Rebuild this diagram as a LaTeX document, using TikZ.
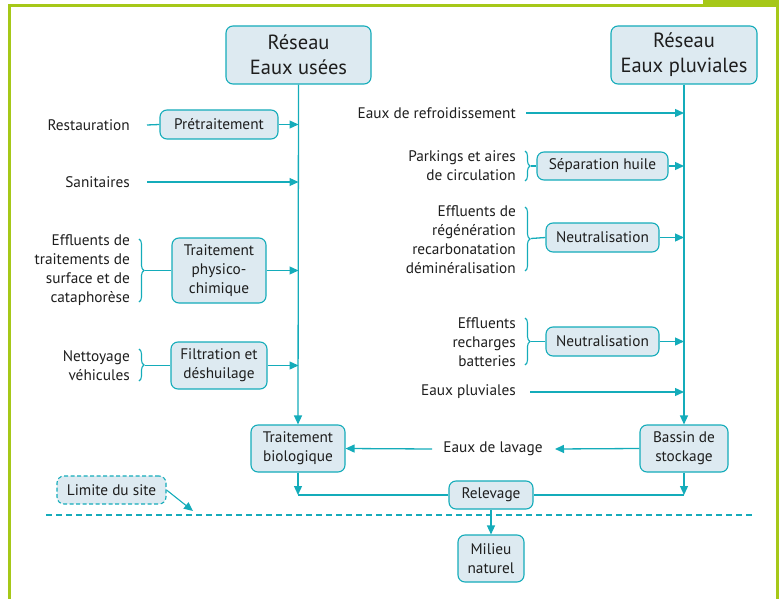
\documentclass[tikz,border=0pt]{standalone}
\usepackage{fontspec}
\setmainfont{PT Sans}
\usetikzlibrary{arrows.meta,decorations.pathreplacing,calc}
\definecolor{tl}{RGB}{20,172,186}
\definecolor{fl}{RGB}{221,234,241}
\definecolor{gr}{RGB}{166,200,24}
\definecolor{tx}{RGB}{30,30,30}
\tikzset{
  box/.style={draw=tl,fill=fl,line width=1.1pt,rounded corners=7pt,align=center,inner sep=0pt,text=tx,font=\fontsize{15.3}{19}\selectfont},
  bigbox/.style={box,font=\fontsize{20.5}{25}\selectfont},
  lbl/.style={inner sep=0pt,align=right,text=tx,font=\fontsize{15.3}{19}\selectfont},
  cn/.style={draw=tl,line width=1.3pt},
  arr/.style={cn,-{Triangle[length=9pt,width=8pt]}},
  brc/.style={draw=tl,line width=1.1pt,decorate,decoration={brace,amplitude=5pt}}
}
\begin{document}
\begin{tikzpicture}[x=1pt,y=-1pt]
\useasboundingbox (0,0) rectangle (779,599);
% frame
\fill[gr] (8,4) rectangle (11,599);
\fill[gr] (8,4) rectangle (779,7);
\fill[gr] (703,0) rectangle (779,7);
\fill[gr] (776,0) rectangle (779,599);
% main boxes
\node[bigbox,minimum width=145pt,minimum height=58pt] (reu) at (298.5,55) {Réseau\\Eaux usées};
\node[bigbox,minimum width=146pt,minimum height=58pt] (rep) at (684,55) {Réseau\\Eaux pluviales};
% left side
\node[lbl,anchor=east] (restau) at (130,125) {Restauration};
\node[box,minimum width=118pt,minimum height=29pt] (pret) at (219,124.5) {Prétraitement};
\node[lbl,anchor=east] (sanit) at (130,182) {Sanitaires};
\node[lbl,anchor=east] (effl) at (130,270.5) {Effluents de\\traitements de\\surface et de\\cataphorèse};
\node[box,minimum width=94pt,minimum height=65pt] (tpc) at (219,270.5) {Traitement\\physico-\\chimique};
\node[lbl,anchor=east] (nett) at (130,365.5) {Nettoyage\\véhicules};
\node[box,minimum width=96pt,minimum height=47pt] (filt) at (219,365.5) {Filtration et\\déshuilage};
% right side
\node[lbl,anchor=east] (refr) at (516,113) {Eaux de refroidissement};
\node[lbl,anchor=east] (park) at (516,166) {Parkings et aires\\de circulation};
\node[box,minimum width=131pt,minimum height=28pt] (sep) at (602.5,166) {Séparation huile};
\node[lbl,anchor=east] (effr) at (516,239.5) {Effluents de\\régénération\\recarbonatation\\déminéralisation};
\node[box,minimum width=113pt,minimum height=29pt] (neu1) at (602.5,237.5) {Neutralisation};
\node[lbl,anchor=east] (effb) at (516,342) {Effluents\\recharges\\batteries};
\node[box,minimum width=113pt,minimum height=29pt] (neu2) at (602.5,341.5) {Neutralisation};
\node[lbl,anchor=east] (pluv) at (516,392) {Eaux pluviales};
% bottom
\node[box,minimum width=94pt,minimum height=47pt] (tbio) at (298,448.5) {Traitement\\biologique};
\node[box,minimum width=88pt,minimum height=47pt] (bas) at (684,448.5) {Bassin de\\stockage};
\node[lbl,align=center] (lav) at (493,449) {Eaux de lavage};
\node[box,minimum width=84pt,minimum height=28pt] (rel) at (491,495) {Relevage};
\node[box,minimum width=66pt,minimum height=47pt] (mil) at (491,558.5) {Milieu\\naturel};
\node[box,dashed,dash pattern=on 4pt off 2.5pt,minimum width=109pt,minimum height=28pt] (lim) at (111.5,490) {Limite du site};
% coordinates
\coordinate (c1) at (147,125);
\coordinate (c2) at (147,182);
\coordinate (c3) at (526,113);
\coordinate (c4) at (530,392);
\coordinate (b1t) at (145,270.5);
\coordinate (b2t) at (145,365.5);
\coordinate (b3t) at (531,166);
\coordinate (b4t) at (531,238.5);
\coordinate (b5t) at (531,341.5);
\coordinate (lvr) at (555,449);
\coordinate (lvl) at (432,449);
\coordinate (lm) at (193,511);
\coordinate (dl) at (46,515);
\coordinate (dr) at (755,515);
% trunks
\draw[arr] (reu.south) -- (tbio.north);
\draw[arr] (rep.south) -- (bas.north);
% left connectors
\draw[cn] (c1) -- (pret.west);
\draw[arr] (pret.east) -- (pret.east -| reu.south);
\draw[arr] (c2) -- (c2 -| reu.south);
\draw[brc] (139,239) -- (139,302);
\draw[cn] (b1t) -- (tpc.west);
\draw[arr] (tpc.east) -- (tpc.east -| reu.south);
\draw[brc] (139,349) -- (139,381);
\draw[cn] (b2t) -- (filt.west);
\draw[arr] (filt.east) -- (filt.east -| reu.south);
% right connectors
\draw[arr] (c3) -- (c3 -| rep.south);
\draw[brc] (525,151) -- (525,181);
\draw[cn] (b3t) -- (sep.west);
\draw[arr] (sep.east) -- (sep.east -| rep.south);
\draw[brc] (525,207) -- (525,271);
\draw[cn] (b4t) -- (neu1.west);
\draw[arr] (neu1.east) -- (neu1.east -| rep.south);
\draw[brc] (525,318) -- (525,365);
\draw[cn] (b5t) -- (neu2.west);
\draw[arr] (neu2.east) -- (neu2.east -| rep.south);
\draw[arr] (c4) -- (c4 -| rep.south);
% bottom connectors
\draw[arr] (bas.west) -- (lvr);
\draw[arr] (lvl) -- (tbio.east);
\draw[arr] (tbio.south) -- (tbio.south |- rel.west);
\draw[cn] (tbio.south |- rel.west) -- (rel.west);
\draw[arr] (bas.south) -- (bas.south |- rel.east);
\draw[cn] (bas.south |- rel.east) -- (rel.east);
\draw[arr] (rel.south) -- (mil.north);
\draw[draw=tl,line width=1.1pt,dash pattern=on 6pt off 4pt] (dl) -- (dr);
\draw[draw=tl,line width=1.1pt,-{Triangle[length=9pt,width=8pt]}] (lim.east) -- (lm);
\end{tikzpicture}
\end{document}
